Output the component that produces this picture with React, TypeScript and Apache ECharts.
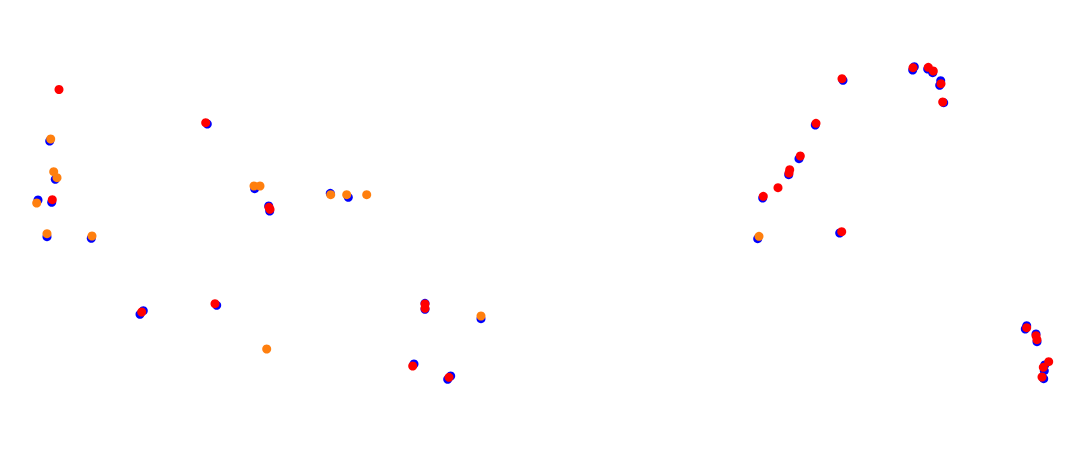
import React, { useEffect, useRef } from "react";
import * as echarts from "echarts";

// Point positions (x, y)
const blueX = [49.7, 55.3, 38, 51.7, 47, 91.3, 207.3, 254.7, 268.7, 269.7, 330.3, 348.3, 143.3, 140, 216.7, 425, 425, 481, 414, 450.7, 447.7, 914.3, 912.7, 927.7, 932.7, 940.7, 939.7, 943.7, 843, 815.3, 799, 788.7, 762.7, 839.7, 757.7, 1026.7, 1025.3, 1036, 1037, 1044.7, 1044.3, 1043.7];
const blueY = [141, 179.3, 200, 202.3, 236.7, 238.3, 124, 188.7, 206, 211, 193.3, 197.3, 310.7, 314.3, 305.3, 303.3, 309.3, 318.7, 364, 376, 379.3, 66.7, 70, 69, 72.7, 80.7, 85.3, 102.7, 80.3, 125, 158.7, 174.7, 198, 233, 238.7, 325.7, 329, 334, 341.7, 365, 370.7, 378.7];

const orangeX = [50.7, 53.7, 57, 36.7, 47, 92, 254, 260, 330.7, 346.7, 366.7, 266.7, 481, 759];
const orangeY = [139, 171.7, 177.7, 203, 233.7, 236, 186, 186, 194.7, 194.7, 194.7, 349, 316, 236.3];

const redX = [59, 52.3, 205.7, 269, 270, 141.7, 215, 425, 425, 412.7, 449, 913, 928.3, 933.3, 941, 942.7, 842, 816, 800.3, 789.7, 789, 778, 763.3, 841.7, 1026.7, 1036, 1037, 1048.7, 1043.3, 1042];
const redY = [89.5, 199.7, 122.7, 207.3, 209.3, 312, 303.7, 304, 308.3, 366, 377.3, 67.7, 67.3, 71, 83.7, 102, 78.7, 123.3, 156, 169.7, 173, 187.7, 196.3, 231.7, 327.7, 335.7, 339.7, 361.7, 367.3, 377];

const seriesNames = ["blue", "orange", "red"];
const seriesColors = ["#0000ff", "#ff7f0e", "#ff0000"];

function pairs(xs: number[], ys: number[]) {
  return xs.map((x, i) => [x, ys[i]]);
}

export default function App() {
  const ref = useRef<HTMLDivElement>(null);
  useEffect(() => {
    if (!ref.current) return;
    const chart = echarts.init(ref.current, null, { renderer: "svg" });
    const datasets = [pairs(blueX, blueY), pairs(orangeX, orangeY), pairs(redX, redY)];
    chart.setOption({
      animation: false,
      grid: { left: 0, right: 0, top: 0, bottom: 0 },
      xAxis: { type: "value", min: 8, max: 1075, show: false },
      yAxis: { type: "value", min: 8, max: 464, inverse: true, show: false },
      series: datasets.map((d, i) => ({
        type: "scatter",
        name: seriesNames[i],
        data: d,
        symbolSize: 9,
        itemStyle: { color: seriesColors[i], opacity: 1 },
      })),
    });
    return () => chart.dispose();
  }, []);
  return <div ref={ref} style={{ width: 1067, height: 456 }} />;
}
